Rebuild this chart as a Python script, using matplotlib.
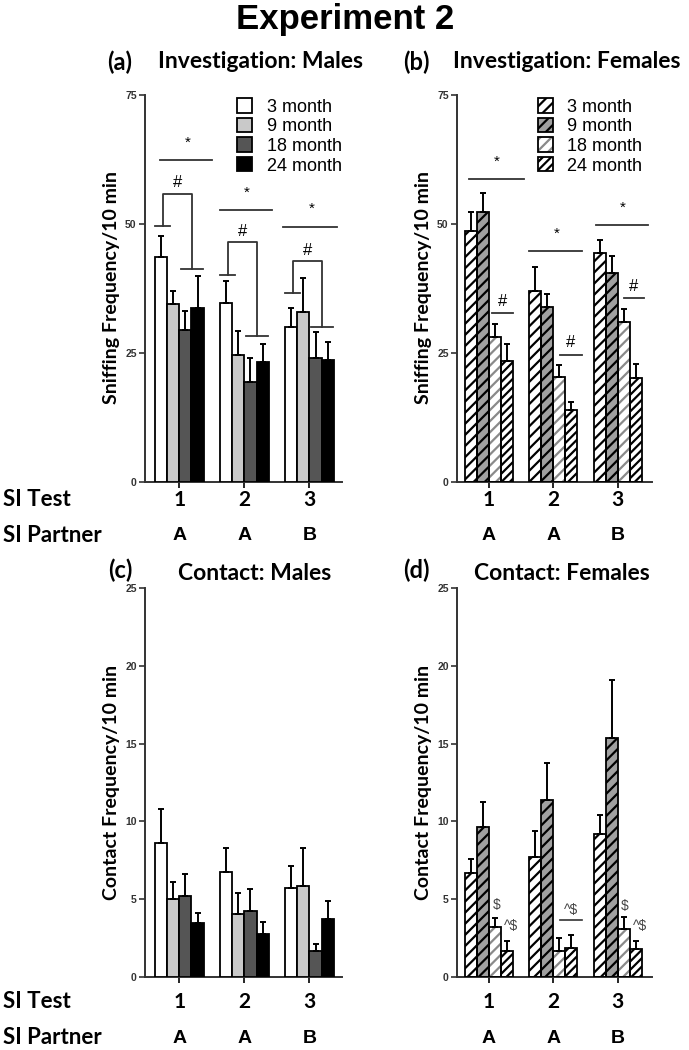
import numpy as np
import matplotlib
matplotlib.use("Agg")
import matplotlib.pyplot as plt
from matplotlib.patches import Patch

plt.rcParams['font.family'] = ['Liberation Sans', 'DejaVu Sans']
plt.rcParams['hatch.linewidth'] = 1.6

W, H = 689, 1050
CAL = ['Lato', 'DejaVu Sans']

ages = ['3 month', '9 month', '18 month', '24 month']
si_test = ['1', '2', '3']
si_partner = ['A', 'A', 'B']

# means per age group (rows) over SI tests 1..3 (cols), and upper SEM
inv_males = [[43.7, 34.6, 30.0], [34.5, 24.6, 32.9], [29.5, 19.4, 24.0], [33.7, 23.2, 23.7]]
inv_males_sem = [[4.0, 4.4, 3.8], [2.6, 4.7, 6.7], [3.6, 4.7, 5.1], [6.2, 3.6, 3.5]]
inv_females = [[48.7, 37.1, 44.4], [52.4, 34.0, 40.6], [28.1, 20.3, 31.1], [23.4, 14.0, 20.1]]
inv_females_sem = [[3.7, 4.6, 2.5], [3.6, 2.4, 3.2], [2.5, 2.3, 2.5], [3.3, 1.6, 2.7]]
con_males = [[8.62, 6.72, 5.74], [5.04, 4.02, 5.85], [5.23, 4.23, 1.64], [3.45, 2.79, 3.74]]
con_males_sem = [[2.17, 1.58, 1.37], [1.07, 1.41, 2.45], [1.39, 1.41, 0.51], [0.68, 0.74, 1.17]]
con_females = [[6.70, 7.73, 9.21], [9.66, 11.37, 15.33], [3.19, 1.69, 3.08], [1.69, 1.88, 1.82]]
con_females_sem = [[0.90, 1.67, 1.22], [1.56, 2.38, 3.77], [0.62, 0.79, 0.75], [0.62, 0.82, 0.51]]

# significance marks: (group, y, x0, x1) relative to group centre
males_star = [(1, 62.4, -0.30, 0.50), (2, 52.7, -0.38, 0.42), (3, 49.5, -0.40, 0.42)]
males_hash = [(1, 55.9, 49.6, 41.2), (2, 46.5, 40.1, 28.3), (3, 42.9, 36.7, 30.1)]
fem_star = [(1, 58.7, -0.30, 0.54), (2, 44.7, -0.37, 0.45), (3, 49.8, -0.34, 0.47)]
fem_hash = [(1, 32.8, 0.05, 0.37), (2, 24.7, 0.11, 0.44), (3, 35.6, 0.09, 0.41)]
con_marks = [(1, 4.65, 0.12, '$'), (1, 3.3, 0.35, '^$'), (2, 4.3, 0.27, '^$'),
             (3, 4.58, 0.10, '$'), (3, 3.3, 0.35, '^$')]
con_line = [(2, 3.66, 0.11, 0.44)]

solid_face = ['white', '#c9c9c9', '#555555', 'black']
hatch_face = ['white', '#a0a0a0', 'white', 'white']
hatch_col = ['black', 'black', '#8a8a8a', 'black']
hatch_pat = ['///', '///', '///', '////']

bw = 0.185
x = np.arange(1, 4)


def fpos(px, py):
    return px / W, 1 - py / H


fig = plt.figure(figsize=(W / 100, H / 100), dpi=100)


def make_ax(l, r, t, b):
    ax = fig.add_axes([l / W, 1 - b / H, (r - l) / W, (b - t) / H])
    for s in ['top', 'right']:
        ax.spines[s].set_visible(False)
    for s in ['left', 'bottom']:
        ax.spines[s].set_linewidth(1.4)
        ax.spines[s].set_color('#333333')
    ax.tick_params(axis='y', length=4, width=1.2, labelsize=7.5, pad=2, colors='#333333')
    ax.tick_params(axis='x', length=4, width=1.2, labelbottom=False)
    ax.set_xticks(x)
    return ax


def draw_bars(ax, means, sems, hatched):
    handles = []
    for i in range(4):
        xs = x + (i - 1.5) * bw
        if hatched:
            ax.bar(xs, means[i], bw, color=hatch_face[i], edgecolor=hatch_col[i],
                   hatch=hatch_pat[i], linewidth=0, zorder=2)
            ax.bar(xs, means[i], bw, fill=False, edgecolor='black', linewidth=1.3, zorder=3)
            handles.append((Patch(facecolor=hatch_face[i], edgecolor=hatch_col[i],
                                  hatch=hatch_pat[i], linewidth=0),
                            Patch(fill=False, edgecolor='black', linewidth=1.3)))
        else:
            ax.bar(xs, means[i], bw, color=solid_face[i], edgecolor='black',
                   linewidth=1.3, zorder=3)
            handles.append(Patch(facecolor=solid_face[i], edgecolor='black', linewidth=1.3))
        ax.errorbar(xs, means[i], yerr=[np.zeros(3), sems[i]], fmt='none', ecolor='black',
                    elinewidth=1.4, capsize=2, capthick=1.4, zorder=4)
    return handles


def labels_under(ax, y1, y2):
    tr = ax.get_xaxis_transform()
    for xi, t, p in zip(x, si_test, si_partner):
        ax.text(xi, y1, t, transform=tr, ha='center', va='center', fontsize=15,
                fontweight='bold', family=CAL)
        ax.text(xi, y2, p, transform=tr, ha='center', va='center', fontsize=14,
                fontweight='bold')


def add_legend(ax, handles, x0):
    ax.legend(handles, ages, loc='upper left', bbox_to_anchor=(x0, 1.015), frameon=False,
              fontsize=13, handlelength=0.85, handleheight=0.85, labelspacing=0.12,
              handletextpad=0.8, borderpad=0)


# (a) investigation males
axa = make_ax(145, 342, 95, 482)
h_solid = draw_bars(axa, inv_males, inv_males_sem, False)
axa.set_xlim(0.47, 3.5)
axa.set_ylim(0, 75)
axa.set_yticks([0, 25, 50, 75])
for g, y, a, b in males_star:
    axa.plot([g + a, g + b], [y, y], color='#333333', lw=1.3)
    axa.text(g + (a + b) / 2 + 0.02, y + 2.0, '*', ha='center', va='bottom', fontsize=11)
for g, top, yl, yr in males_hash:
    xl, xr = g - 0.26, g + 0.19
    axa.plot([xl, xl, xr, xr], [yl, top, top, yr], color='#333333', lw=1.3)
    axa.plot([g - 0.38, g - 0.15], [yl, yl], color='#333333', lw=1.3)
    axa.plot([g + 0.03, g + 0.36], [yr, yr], color='#333333', lw=1.3)
    axa.text((xl + xr) / 2, top + 0.6, '#', ha='center', va='bottom', fontsize=12)
add_legend(axa, h_solid, 0.42)

# (b) investigation females
axb = make_ax(457, 652, 95, 482)
h_hatch = draw_bars(axb, inv_females, inv_females_sem, True)
axb.set_xlim(0.51, 3.53)
axb.set_ylim(0, 75)
axb.set_yticks([0, 25, 50, 75])
for g, y, a, b in fem_star:
    axb.plot([g + a, g + b], [y, y], color='#333333', lw=1.3)
    axb.text(g + (a + b) / 2 + 0.01, y + 2.0, '*', ha='center', va='bottom', fontsize=11)
for g, y, a, b in fem_hash:
    axb.plot([g + a, g + b], [y, y], color='#333333', lw=1.3)
    axb.text(g + (a + b) / 2, y + 0.8, '#', ha='center', va='bottom', fontsize=12)
add_legend(axb, h_hatch, 0.367)

# (c) contact males
axc = make_ax(145, 342, 588, 977)
draw_bars(axc, con_males, con_males_sem, False)
axc.set_xlim(0.47, 3.5)
axc.set_ylim(0, 25)
axc.set_yticks([0, 5, 10, 15, 20, 25])

# (d) contact females
axd = make_ax(457, 652, 588, 977)
draw_bars(axd, con_females, con_females_sem, True)
axd.set_xlim(0.51, 3.53)
axd.set_ylim(0, 25)
axd.set_yticks([0, 5, 10, 15, 20, 25])
for g, y, dx, s in con_marks:
    axd.text(g + dx, y, s, ha='center', va='center', fontsize=10, color='#444444',
             parse_math=False)
for g, y, a, b in con_line:
    axd.plot([g + a, g + b], [y, y], color='#333333', lw=1.2)

for ax in [axa, axb, axc, axd]:
    for lab in ax.get_yticklabels():
        lab.set_fontweight('bold')

labels_under(axa, -0.047, -0.137)
labels_under(axb, -0.047, -0.137)
labels_under(axc, -0.064, -0.157)
labels_under(axd, -0.064, -0.157)

# titles and labels
fig.text(*fpos(345, 20), 'Experiment 2', ha='center', va='center', fontsize=25, fontweight='bold')
for px, py, s in [(120, 62, '(a)'), (416, 62, '(b)'), (120, 570, '(c)'), (416, 570, '(d)')]:
    fig.text(*fpos(px, py), s, ha='center', va='center', fontsize=17, fontweight='bold', family=CAL)
for px, py, s in [(260, 62, 'Investigation: Males'), (567, 62, 'Investigation: Females'),
                  (255, 573, 'Contact: Males'), (562, 573, 'Contact: Females')]:
    fig.text(*fpos(px, py), s, ha='center', va='center', fontsize=16.5, fontweight='bold', family=CAL)
for px, py, s in [(112, 288, 'Sniffing Frequency/10 min'), (424, 288, 'Sniffing Frequency/10 min'),
                  (112, 782, 'Contact Frequency/10 min'), (424, 782, 'Contact Frequency/10 min')]:
    fig.text(*fpos(px, py), s, ha='center', va='center', rotation=90, fontsize=14,
             fontweight='bold', family=CAL)
for py1, py2 in [(500, 535), (1002, 1038)]:
    fig.text(*fpos(3, py1), 'SI Test', ha='left', va='center', fontsize=16, fontweight='bold', family=CAL)
    fig.text(*fpos(3, py2), 'SI Partner', ha='left', va='center', fontsize=16, fontweight='bold', family=CAL)

fig.savefig('out.png', dpi=100)
